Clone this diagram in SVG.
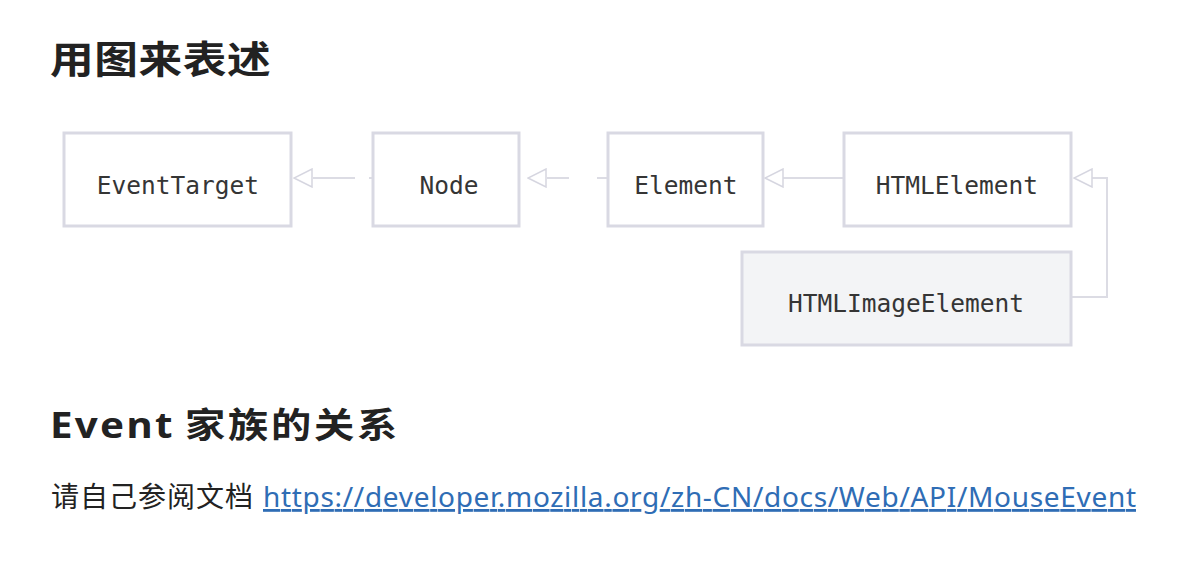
<svg xmlns="http://www.w3.org/2000/svg" width="1188" height="571" viewBox="0 0 1188 571">
<style>
.box{fill:#ffffff;stroke:#d9d9e3;stroke-width:3}
.box2{fill:#f3f4f6;stroke:#d9d9e3;stroke-width:3}
.lbl{font-family:"DejaVu Sans Mono","Liberation Mono",monospace;font-size:24.5px;fill:#353535;text-anchor:middle}
.h{font-family:"Noto Sans","Noto Sans CJK SC",sans-serif;font-weight:bold;fill:#222222}
.conn{fill:none;stroke:#dcdce4;stroke-width:2}
.p{font-family:"Noto Sans","Noto Sans CJK SC",sans-serif;font-size:28px;fill:#222222}
.link{font-family:"Noto Sans","Noto Sans CJK SC",sans-serif;font-size:28px;fill:#2f6db5;text-decoration:underline}
</style>
<defs>
<marker id="tri" viewBox="0 0 20 20" refX="19" refY="10" markerWidth="20" markerHeight="20" markerUnits="userSpaceOnUse" orient="auto">
<path d="M19,10 L1,1 L1,19 Z" fill="#ffffff" stroke="#d6d6e0" stroke-width="1.5"/>
</marker>
</defs>
<rect width="1188" height="571" fill="#ffffff"/>
<text class="h" transform="translate(50,73) scale(1.15,1)" x="0" y="0" font-size="38" letter-spacing="0.5">用图来表述</text>

<g id="connectors">
<path class="conn" d="M372,178 H294" stroke-dasharray="3 14 42 100" marker-end="url(#tri)"/>
<path class="conn" d="M607,178 H528" stroke-dasharray="10 28 22 100" marker-end="url(#tri)"/>
<path class="conn" d="M843,178 H765" marker-end="url(#tri)"/>
<path class="conn" d="M1071,297 H1107 V178 H1074" marker-end="url(#tri)"/>
</g>

<g id="EventTarget">
<rect class="box" x="64" y="133" width="227" height="93"/>
<text class="lbl" x="178" y="194">EventTarget</text>
</g>
<g id="Node">
<rect class="box" x="373" y="133" width="146" height="93"/>
<text class="lbl" x="449" y="194">Node</text>
</g>
<g id="Element">
<rect class="box" x="608" y="133" width="155" height="93"/>
<text class="lbl" x="686" y="194">Element</text>
</g>
<g id="HTMLElement">
<rect class="box" x="844" y="133" width="227" height="93"/>
<text class="lbl" x="957" y="194">HTMLElement</text>
</g>
<g id="HTMLImageElement">
<rect class="box2" x="742" y="252" width="329" height="93"/>
<text class="lbl" x="906" y="312">HTMLImageElement</text>
</g>

<text class="h" transform="translate(50,438) scale(1.15,1)" x="0" y="0" font-size="35" letter-spacing="2">Event <tspan x="117.4" letter-spacing="2.4">家族的关系</tspan></text>
<text class="p" x="51" y="507" letter-spacing="1">请自己参阅文档</text>
<text class="link" x="263" y="507" textLength="873" lengthAdjust="spacing">https://developer.mozilla.org/zh-CN/docs/Web/API/MouseEvent</text>
</svg>
